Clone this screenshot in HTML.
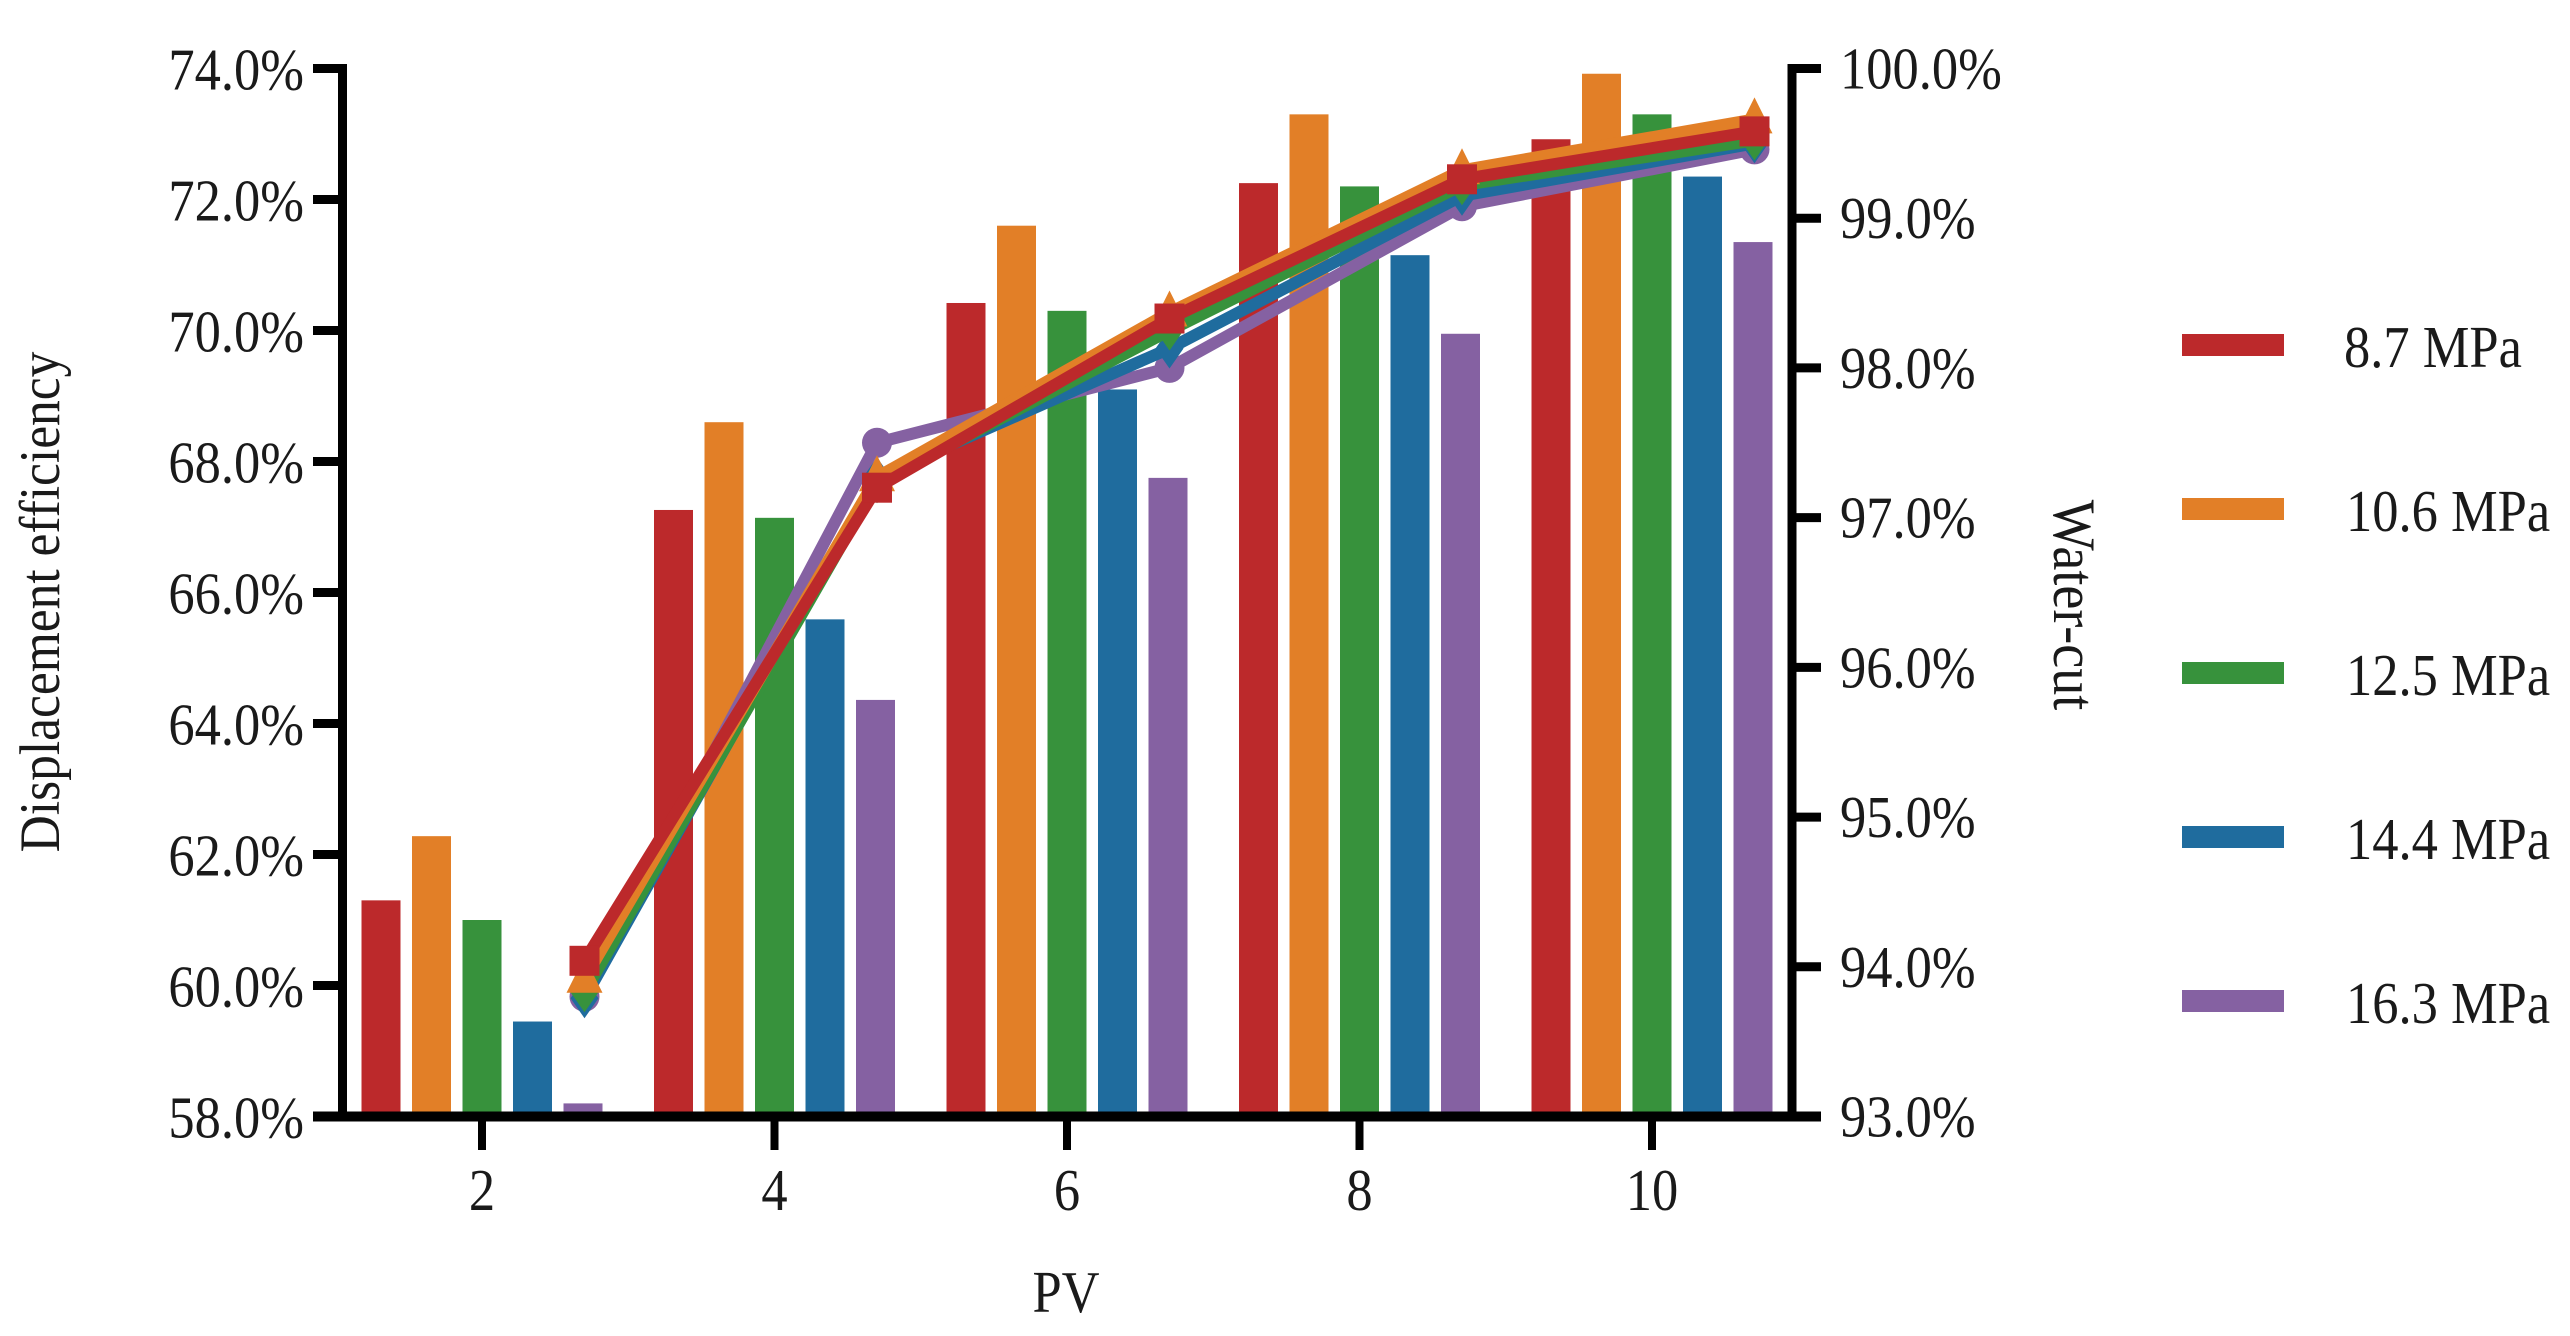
<!DOCTYPE html>
<html lang="en">
<head>
<meta charset="utf-8">
<title>Displacement efficiency and water-cut vs PV</title>
<style>
html,body{margin:0;padding:0;background:#fff;}
svg{display:block;}
text{font-family:"Liberation Serif",serif;fill:#1a1a1a;}
</style>
</head>
<body>
<svg id="chart" xmlns="http://www.w3.org/2000/svg" width="2570" height="1336" viewBox="0 0 2570 1336"></svg>
<script>
const categories = [2, 4, 6, 8, 10];
const seriesNames = ['8.7 MPa', '10.6 MPa', '12.5 MPa', '14.4 MPa', '16.3 MPa'];
const seriesColors = ['#bc292b', '#e27f27', '#37923c', '#1f6c9e', '#8561a2'];
const seriesMarkers = ['square', 'triangle', 'diamond', 'diamond', 'circle'];

const efficiency87 = [61.3, 67.26, 70.42, 72.25, 72.92];
const efficiency106 = [62.28, 68.6, 71.6, 73.3, 73.92];
const efficiency125 = [61.0, 67.14, 70.3, 72.2, 73.3];
const efficiency144 = [59.45, 65.59, 69.1, 71.15, 72.35];
const efficiency163 = [58.2, 64.36, 67.75, 69.95, 71.35];

const waterCut87 = [94.04, 97.2, 98.33, 99.26, 99.58];
const waterCut106 = [93.92, 97.27, 98.37, 99.32, 99.66];
const waterCut125 = [93.83, 97.23, 98.25, 99.22, 99.52];
const waterCut144 = [93.79, 97.27, 98.13, 99.15, 99.5];
const waterCut163 = [93.8, 97.5, 98.0, 99.08, 99.46];

const leftTicks = [58, 60, 62, 64, 66, 68, 70, 72, 74];
const leftTickLabels = ['58.0%', '60.0%', '62.0%', '64.0%', '66.0%', '68.0%', '70.0%', '72.0%', '74.0%'];
const rightTicks = [93, 94, 95, 96, 97, 98, 99, 100];
const rightTickLabels = ['93.0%', '94.0%', '95.0%', '96.0%', '97.0%', '98.0%', '99.0%', '100.0%'];

const efficiencySeries = [efficiency87, efficiency106, efficiency125, efficiency144, efficiency163];
const waterCutSeries = [waterCut87, waterCut106, waterCut125, waterCut144, waterCut163];

const svg = document.getElementById('chart');
const NS = 'http://www.w3.org/2000/svg';
const plotTop = 68.5, plotBottom = 1116.5;
const axisLeft = 342.5, axisRight = 1792;
const barPitch = 50.5, barWidth = 39;
const textStretch = 'scale(1 1.12)';

function xCat(v) { return 482 + (v - 2) / 2 * 292.5; }
function xLine(v) { return xCat(v) + 2 * barPitch + 1.5; }
function yLeft(v) { return plotBottom - (v - 58) / (74 - 58) * (plotBottom - plotTop); }
function yRight(v) { return plotBottom - (v - 93) / (100 - 93) * (plotBottom - plotTop); }

function make(tag, attrs, parent) {
  const el = document.createElementNS(NS, tag);
  for (const k in attrs) el.setAttribute(k, attrs[k]);
  (parent || svg).appendChild(el);
  return el;
}
function label(str, x, y, size, anchor, extra) {
  const t = make('text', {
    'font-size': size,
    'text-anchor': anchor,
    transform: 'translate(' + x + ' ' + y + ') ' + (extra || textStretch)
  });
  t.textContent = str;
  return t;
}

/* bars */
efficiencySeries.forEach(function (vals, s) {
  vals.forEach(function (v, i) {
    const r = make('rect', {
      x: xCat(categories[i]) + (s - 2) * barPitch - barWidth / 2,
      y: yLeft(v),
      width: barWidth,
      height: plotBottom - yLeft(v),
      fill: seriesColors[s]
    });
    
    
  });
});

/* lines and markers, drawn back to front */
function drawMarker(kind, cx, cy, color) {
  if (kind === 'square') return make('rect', { x: cx - 15, y: cy - 15, width: 30, height: 30, fill: color });
  if (kind === 'circle') return make('circle', { cx: cx, cy: cy, r: 15, fill: color });
  if (kind === 'triangle') return make('polygon', { points: (cx - 18) + ',' + (cy + 14) + ' ' + (cx + 18) + ',' + (cy + 14) + ' ' + cx + ',' + (cy - 22), fill: color });
  return make('polygon', { points: cx + ',' + (cy - 20) + ' ' + (cx + 14) + ',' + cy + ' ' + cx + ',' + (cy + 20) + ' ' + (cx - 14) + ',' + cy, fill: color });
}
for (let s = waterCutSeries.length - 1; s >= 0; s--) {
  const vals = waterCutSeries[s];
  const pts = vals.map(function (v, i) { return xLine(categories[i]) + ',' + yRight(v); });
  const line = make('polyline', { points: pts.join(' '), fill: 'none', stroke: seriesColors[s], 'stroke-width': 12, 'stroke-linejoin': 'round' });
  
  
  vals.forEach(function (v, i) {
    const m = drawMarker(seriesMarkers[s], xLine(categories[i]), yRight(v), seriesColors[s]);
    
    
  });
}

/* axes */
const axisStroke = 9;
const leftAxisLine = make('line', { x1: axisLeft, x2: axisLeft, y1: plotTop - 4.5, y2: plotBottom, stroke: '#000', 'stroke-width': axisStroke });


const rightAxisLine = make('line', { x1: axisRight, x2: axisRight, y1: plotTop - 4.5, y2: plotBottom, stroke: '#000', 'stroke-width': axisStroke });


const bottomAxisLine = make('line', { x1: 313, x2: 1821, y1: plotBottom, y2: plotBottom, stroke: '#000', 'stroke-width': axisStroke + 1 });



leftTicks.forEach(function (v, i) {
  const tick = make('line', { x1: 313, x2: axisLeft, y1: yLeft(v), y2: yLeft(v), stroke: '#000', 'stroke-width': axisStroke });
  
  
  const t = label(leftTickLabels[i], 304, yLeft(v) + 21, 52.5, 'end');
  
  
});
rightTicks.forEach(function (v, i) {
  const tick = make('line', { x1: axisRight, x2: 1821, y1: yRight(v), y2: yRight(v), stroke: '#000', 'stroke-width': axisStroke });
  
  
  const t = label(rightTickLabels[i], 1840, yRight(v) + 20, 52.5, 'start');
  
  
});
categories.forEach(function (c) {
  const tick = make('line', { x1: xCat(c), x2: xCat(c), y1: plotBottom, y2: 1150, stroke: '#000', 'stroke-width': 8 });
  
  
  const t = label(String(c), xCat(c), 1210, 52.5, 'middle');
  
  
});

/* axis titles */
const xTitle = label('PV', 1066, 1312, 52.5, 'middle');


const yTitleLeft = label('Displacement efficiency', 59, 602, 51.5, 'middle', 'rotate(-90) ' + textStretch);


const yTitleRight = label('Water-cut', 2054, 605, 54, 'middle', 'rotate(90) ' + textStretch);



/* legend */
seriesNames.forEach(function (name, i) {
  const cy = 345 + i * 164;
  const sw = make('rect', { x: 2182, y: cy - 11, width: 102, height: 22, fill: seriesColors[i] });
  
  
  const t = label(name, i === 0 ? 2344 : 2346, cy + 22, 52.5, 'start');
  
  
});
</script>
</body>
</html>
